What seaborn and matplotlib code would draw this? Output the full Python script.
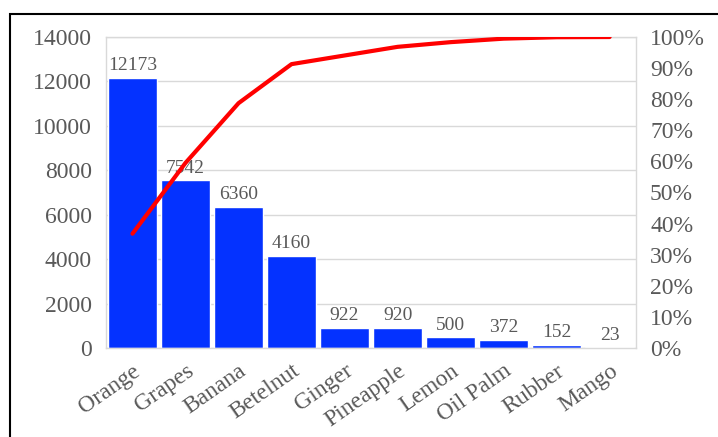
import numpy as np
import matplotlib
matplotlib.use('Agg')
import matplotlib.pyplot as plt
import seaborn as sns
from matplotlib.patches import Rectangle
from matplotlib.ticker import PercentFormatter

crops = ['Orange', 'Grapes', 'Banana', 'Betelnut', 'Ginger', 'Pineapple',
         'Lemon', 'Oil Palm', 'Rubber', 'Mango']
production = [12173, 7542, 6360, 4160, 922, 920, 500, 372, 152, 23]
left_ticks = [0, 2000, 4000, 6000, 8000, 10000, 12000, 14000]
right_ticks = [0, 10, 20, 30, 40, 50, 60, 70, 80, 90, 100]

cum_pct = np.cumsum(production) / np.sum(production) * 100
pos = np.arange(len(crops))

sns.set_style('white')
plt.rcParams['font.family'] = ['Liberation Serif', 'DejaVu Serif']
txt = '#595959'
grid = '#d9d9d9'

fig = plt.figure(figsize=(7.18, 4.37), dpi=100)
ax = fig.add_axes([0.1476, 0.2037, 0.7384, 0.7116])

sns.barplot(x=pos, y=production, color='#0432FF', saturation=1, width=0.92, ax=ax)
ax.set_ylim(0, 14000)
ax.set_xlim(-0.5, len(crops) - 0.5)
ax.set_yticks(left_ticks)
ax.yaxis.grid(True, color=grid, lw=1)
ax.set_axisbelow(True)
ax.set_xticks(pos)
ax.set_xticklabels(crops, rotation=35, ha='right', rotation_mode='anchor')
ax.tick_params(axis='both', length=0, labelsize=17, colors=txt)
ax.tick_params(axis='y', pad=10)
ax.tick_params(axis='x', pad=9)
for s in ['left', 'right', 'bottom', 'top']:
    ax.spines[s].set_color(grid)
    ax.spines[s].set_linewidth(1)
ax.set_xlabel('')
ax.set_ylabel('')

for x, v in zip(pos, production):
    ax.text(x, v + 150, str(v), ha='center', va='bottom', fontsize=14, color=txt)

ax2 = ax.twinx()
sns.lineplot(x=pos, y=cum_pct, color='#ff0000', lw=3, sort=False, ax=ax2)
ax2.set_ylim(0, 100)
ax2.set_yticks(right_ticks)
ax2.yaxis.set_major_formatter(PercentFormatter(decimals=0))
ax2.tick_params(axis='y', length=0, labelsize=17, colors=txt, pad=10)
for s in ['left', 'right', 'bottom', 'top']:
    ax2.spines[s].set_visible(False)
ax2.set_ylabel('')

fig.patches.append(Rectangle((10 / 718, -0.1), 1.2, (437 - 14) / 437 + 0.1,
                             transform=fig.transFigure, fill=False,
                             ec='black', lw=1.5))

fig.savefig('out.png', dpi=100)
